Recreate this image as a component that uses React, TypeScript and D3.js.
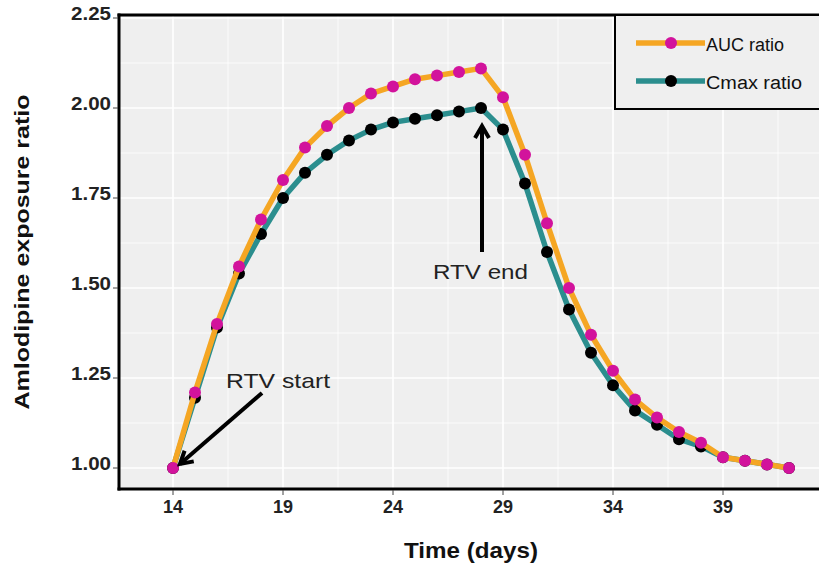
import React from "react";
import * as d3 from "d3";

const days = [14,15,16,17,18,19,20,21,22,23,24,25,26,27,28,29,30,31,32,33,34,35,36,37,38,39,40,41,42];
const aucRatio = [1.00,1.21,1.40,1.56,1.69,1.80,1.89,1.95,2.00,2.04,2.06,2.08,2.09,2.10,2.11,2.03,1.87,1.68,1.50,1.37,1.27,1.19,1.14,1.10,1.07,1.03,1.02,1.01,1.00];
const cmaxRatio = [1.00,1.195,1.39,1.54,1.65,1.75,1.82,1.87,1.91,1.94,1.96,1.97,1.98,1.99,2.00,1.94,1.79,1.60,1.44,1.32,1.23,1.16,1.12,1.08,1.06,1.03,1.02,1.01,1.00];
const xTicks = [14,19,24,29,34,39];
const yTicks = [1.0,1.25,1.5,1.75,2.0,2.25];
const seriesNames = ["AUC ratio","Cmax ratio"];

const ORANGE = "#F5A623";
const TEAL = "#2B8E8E";
const MAGENTA = "#D2139C";

export default function App() {
  const W = 819, H = 566;
  const x = d3.scaleLinear().domain([14, 39]).range([173, 723]);
  const y = d3.scaleLinear().domain([1, 2.25]).range([468, 18]);
  const pL = 119, pT = 15, pB = 489, pR = 840;
  const xMinor = d3.range(11.5, 46, 5);
  const xMajor = d3.range(14, 46, 5);
  const yMinor = d3.range(1.125, 2.25, 0.25);
  const line = d3.line<number>().x((_, i) => x(days[i])).y(d => y(d));
  const font = "'Liberation Sans', Arial, sans-serif";

  const arrowHead = (x1: number, y1: number, x2: number, y2: number) => {
    const a = Math.atan2(y2 - y1, x2 - x1);
    const L = 14, sp = Math.PI / 6;
    const p1 = [x2 - L * Math.cos(a - sp), y2 - L * Math.sin(a - sp)];
    const p2 = [x2 - L * Math.cos(a + sp), y2 - L * Math.sin(a + sp)];
    return `M${p1[0]},${p1[1]}L${x2},${y2}L${p2[0]},${p2[1]}`;
  };

  return (
    <svg width={W} height={H} style={{ position: "absolute", left: 0, top: 0, background: "#fff" }}>
      <rect x={pL} y={pT} width={pR - pL} height={pB - pT} fill="#EFEFEF" />
      {xMinor.map(v => <line key={"xm" + v} x1={x(v)} x2={x(v)} y1={pT} y2={pB} stroke="#fff" strokeWidth={0.8} />)}
      {yMinor.map(v => <line key={"ym" + v} x1={pL} x2={pR} y1={y(v)} y2={y(v)} stroke="#fff" strokeWidth={0.8} />)}
      {xMajor.map(v => <line key={"xM" + v} x1={x(v)} x2={x(v)} y1={pT} y2={pB} stroke="#fff" strokeWidth={1.6} />)}
      {yTicks.map(v => <line key={"yM" + v} x1={pL} x2={pR} y1={y(v)} y2={y(v)} stroke="#fff" strokeWidth={1.6} />)}

      <path d={line(cmaxRatio) || ""} fill="none" stroke={TEAL} strokeWidth={5.5} strokeLinejoin="round" />
      {cmaxRatio.map((v, i) => <circle key={"c" + i} cx={x(days[i])} cy={y(v)} r={6} fill="#000" />)}
      <path d={line(aucRatio) || ""} fill="none" stroke={ORANGE} strokeWidth={5.5} strokeLinejoin="round" />
      {aucRatio.map((v, i) => <circle key={"a" + i} cx={x(days[i])} cy={y(v)} r={6} fill={MAGENTA} />)}

      {/* annotations */}
      <g stroke="#000" strokeWidth={4} fill="none" strokeLinecap="butt">
        <line x1={262} y1={393} x2={180} y2={464} />
        <path d={arrowHead(262, 393, 180, 464)} strokeLinejoin="miter" />
        <line x1={482} y1={252} x2={482} y2={126} />
        <path d={arrowHead(482, 252, 482, 126)} strokeLinejoin="miter" />
      </g>
      <text x={226} y={388} fontFamily={font} fontSize={21} fill="#222" textLength={104} lengthAdjust="spacingAndGlyphs">RTV start</text>
      <text x={433} y={279} fontFamily={font} fontSize={21} fill="#222" textLength={95} lengthAdjust="spacingAndGlyphs">RTV end</text>

      {/* panel borders */}
      <line x1={pL} x2={pL} y1={pT - 1.5} y2={pB + 1.5} stroke="#000" strokeWidth={3} />
      <line x1={pL - 1.5} x2={pR} y1={pB} y2={pB} stroke="#000" strokeWidth={3} />
      <line x1={pL - 1.5} x2={pR} y1={pT} y2={pT} stroke="#000" strokeWidth={3} />

      {/* legend */}
      <rect x={615} y={pT} width={240} height={94} fill="#EFEFEF" stroke="#000" strokeWidth={2} />
      {seriesNames.map((n, i) => {
        const ly = 43 + i * 38;
        return (
          <g key={n}>
            <line x1={636} x2={705} y1={ly} y2={ly} stroke={i === 0 ? ORANGE : TEAL} strokeWidth={5.5} />
            <circle cx={671} cy={ly} r={6} fill={i === 0 ? MAGENTA : "#000"} />
            <text x={706} y={ly + 2} dy="0.36em" fontFamily={font} fontSize={18} fill="#111" textLength={i === 0 ? 78 : 96} lengthAdjust="spacingAndGlyphs">{n}</text>
          </g>
        );
      })}

      {/* axes ticks */}
      {yTicks.map(v => (
        <g key={"yt" + v}>
          <line x1={pL - 6} x2={pL - 1} y1={y(v)} y2={y(v)} stroke="#444" strokeWidth={1} />
          <text x={pL - 8} y={y(v) + 2} textAnchor="end" fontFamily={font} fontSize={18} fontWeight="bold" fill="#222" textLength={40} lengthAdjust="spacingAndGlyphs">{v.toFixed(2)}</text>
        </g>
      ))}
      {xTicks.map(v => (
        <g key={"xt" + v}>
          <line x1={x(v)} x2={x(v)} y1={pB + 1} y2={pB + 6} stroke="#444" strokeWidth={1} />
          <text x={x(v)} y={pB + 24} textAnchor="middle" fontFamily={font} fontSize={18} fontWeight="bold" fill="#222">{v}</text>
        </g>
      ))}
      <text x={471} y={558} textAnchor="middle" fontFamily={font} fontSize={22} fontWeight="bold" fill="#111" textLength={134} lengthAdjust="spacingAndGlyphs">Time (days)</text>
      <text transform={`translate(29,252) rotate(-90)`} textAnchor="middle" fontFamily={font} fontSize={21} fontWeight="bold" fill="#111" textLength={315} lengthAdjust="spacingAndGlyphs">Amlodipine exposure ratio</text>
    </svg>
  );
}
